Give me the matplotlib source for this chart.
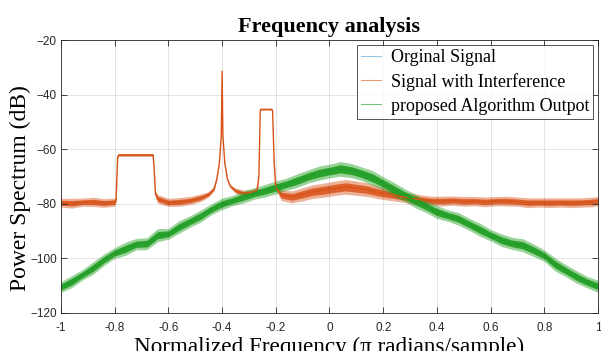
import numpy as np
import matplotlib
matplotlib.use("Agg")
import matplotlib.pyplot as plt

# frequency grid for the smooth spectrum (normalized, -1..1)
freq_green = np.linspace(-1, 1, 51)
green_db = [-110.5, -108.5, -106.0, -103.5, -100.5, -98.0, -96.5, -94.8, -94.6, -91.5,
            -91.0, -88.5, -86.5, -84.5, -82.0, -80.0, -78.8, -77.5, -76.2, -75.2,
            -74.0, -72.8, -71.5, -70.0, -68.8, -68.0, -67.2, -67.8, -69.0, -70.5,
            -72.5, -74.8, -76.8, -79.0, -81.0, -83.0, -84.3, -85.5, -87.5, -89.5,
            -91.5, -93.3, -94.5, -95.2, -97.0, -99.0, -102.2, -104.5, -106.8, -108.7,
            -110.2]
# half thickness of the noisy band (dB)
green_spread = [2.0, 2.2, 1.9, 2.3, 2.1, 2.0, 2.4, 2.1, 2.2, 2.4,
                2.0, 2.3, 2.1, 2.2, 2.0, 2.1, 1.9, 2.2, 2.1, 2.3,
                2.4, 2.2, 2.5, 2.4, 2.6, 2.5, 2.7, 2.6, 2.5, 2.7,
                2.4, 2.6, 2.3, 2.5, 2.2, 2.4, 2.1, 2.3, 2.2, 2.4,
                2.1, 2.3, 2.2, 2.4, 2.3, 2.1, 2.4, 2.2, 2.3, 2.1,
                2.2]

# signal with interference: two band blocks and a narrow tone
orange_freq = [-1.00, -0.96, -0.92, -0.88, -0.84, -0.80, -0.795, -0.789, -0.785, -0.72,
               -0.657, -0.654, -0.648, -0.64, -0.60, -0.56, -0.52, -0.48, -0.45, -0.43,
               -0.42, -0.41, -0.403, -0.400, -0.397, -0.39, -0.38, -0.37, -0.35, -0.32,
               -0.29, -0.27, -0.263, -0.258, -0.256, -0.215, -0.212, -0.206, -0.20, -0.18,
               -0.14, -0.10, -0.06, -0.02, 0.02, 0.06, 0.10, 0.14, 0.18, 0.22,
               0.26, 0.30, 0.34, 0.38, 0.42, 0.46, 0.50, 0.54, 0.58, 0.62,
               0.66, 0.70, 0.74, 0.78, 0.82, 0.86, 0.90, 0.94, 0.98, 1.00]
orange_db = [-79.6, -79.8, -79.4, -79.3, -79.7, -79.4, -78.5, -63.0, -62.1, -62.1,
             -62.1, -66.0, -76.5, -78.2, -79.5, -79.3, -78.8, -77.8, -76.5, -74.5,
             -71.0, -65.0, -55.0, -31.4, -55.0, -65.0, -71.0, -73.5, -75.2, -76.2,
             -75.8, -75.0, -70.0, -46.0, -45.4, -45.4, -46.0, -65.0, -74.0, -76.8,
             -77.5, -76.5, -75.5, -75.0, -74.3, -73.8, -74.3, -74.8, -75.8, -76.5,
             -77.2, -78.0, -78.5, -78.9, -79.0, -78.8, -79.1, -79.0, -79.3, -79.0,
             -79.0, -79.2, -79.6, -79.5, -79.6, -79.5, -79.6, -79.5, -79.3, -79.0]
orange_spread = [1.6, 1.8, 1.5, 1.7, 1.6, 1.5, 1.0, 0.4, 0.5, 0.5,
                 0.5, 0.3, 1.2, 1.6, 1.5, 1.6, 1.5, 1.4, 1.0, 0.8,
                 0.3, 0.2, 0.0, 0.0, 0.0, 0.2, 0.3, 0.6, 1.0, 1.2,
                 1.1, 0.8, 0.2, 0.0, 0.3, 0.3, 0.0, 0.2, 0.8, 2.0,
                 2.2, 2.4, 2.5, 2.6, 2.6, 2.7, 2.6, 2.5, 2.3, 2.2,
                 2.0, 1.9, 1.8, 1.7, 1.8, 1.7, 1.8, 1.7, 1.8, 1.7,
                 1.8, 1.7, 1.8, 1.7, 1.8, 1.7, 1.8, 1.7, 1.8, 1.7]

labels = ["Orginal Signal", "Signal with Interference", "proposed Algorithm Outpot"]
c_blue, c_orange, c_green = "#4a9fd8", "#d95319", "#1f9e1f"

fig = plt.figure(figsize=(6.01, 3.51), dpi=100)
ax = fig.add_axes([0.1015, 0.1083, 0.8935, 0.7777])

g = np.array(green_db); gs = np.array(green_spread)
o = np.array(orange_db); os_ = np.array(orange_spread)

# original signal sits underneath the algorithm output
ax.plot(freq_green, g, color=c_blue, lw=0.6, label=labels[0])
# noisy bands: light outer halo + denser core
ax.fill_between(orange_freq, o - os_, o + os_, color=c_orange, alpha=0.45, lw=0)
ax.fill_between(orange_freq, o - 0.55 * os_, o + 0.55 * os_, color=c_orange, alpha=0.85, lw=0)
ax.plot(orange_freq, o, color=c_orange, lw=1.0, label=labels[1])
ax.fill_between(freq_green, g - gs, g + gs, color=c_green, alpha=0.45, lw=0)
ax.fill_between(freq_green, g - 0.55 * gs, g + 0.55 * gs, color=c_green, alpha=0.9, lw=0)
ax.plot(freq_green, g, color=c_green, lw=1.0, label=labels[2])

ax.set_xlim(-1, 1)
ax.set_ylim(-120, -20)
ax.set_xticks(np.arange(-1, 1.01, 0.2))
ax.set_xticklabels(["-1", "-0.8", "-0.6", "-0.4", "-0.2", "0", "0.2", "0.4", "0.6", "0.8", "1"])
ax.set_yticks(np.arange(-120, -19, 20))
ax.grid(True, color="#262626", alpha=0.12, lw=0.7)
ax.tick_params(direction="in", length=4, width=0.6, top=True, right=True,
               labelsize=8.5, colors="#262626", pad=3)
ax.tick_params(axis="x", pad=6.5)
for lab in ax.get_xticklabels() + ax.get_yticklabels():
    lab.set_family("Liberation Sans")
for s in ax.spines.values():
    s.set_color("#262626"); s.set_linewidth(0.6)

serif = "Liberation Serif"
ax.set_title("Frequency analysis", family=serif, fontweight="bold", fontsize=16, pad=6)
ax.set_xlabel("Normalized Frequency (\u03c0 radians/sample)", family=serif, fontsize=16.7, labelpad=2)
ax.set_ylabel("Power Spectrum (dB)", family=serif, fontsize=17)
ax.yaxis.set_label_coords(-0.056, 0.458)

leg = ax.legend(loc="upper right", bbox_to_anchor=(0.9907, 0.9817), borderaxespad=0,
                prop={"family": serif, "size": 13}, frameon=True, fancybox=False,
                handlelength=1.1, handletextpad=0.55, borderpad=0.22, labelspacing=0.38)
leg.get_frame().set_edgecolor("#262626")
leg.get_frame().set_linewidth(0.7)
for h in leg.get_lines():
    h.set_linewidth(0.8); h.set_alpha(0.6)

fig.savefig("out.png", dpi=100)
